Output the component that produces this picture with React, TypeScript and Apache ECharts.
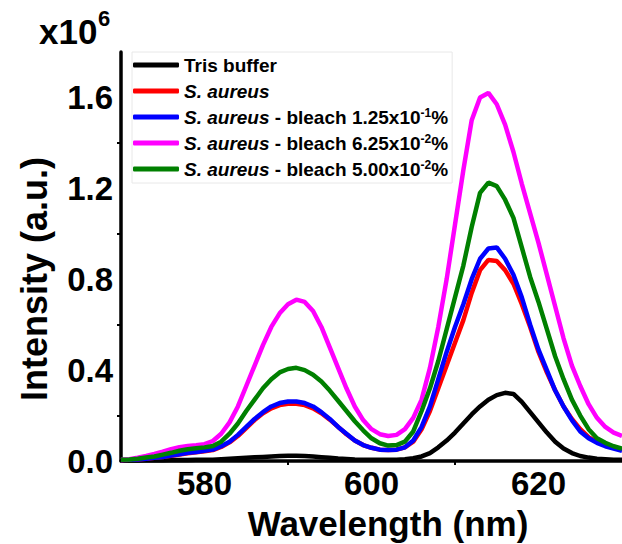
import React, { useEffect, useRef } from "react";
import * as echarts from "echarts";

const wavelengths = [
  570, 571, 572, 573, 574, 575, 576, 577, 578, 579, 580,
  581, 582, 583, 584, 585, 586, 587, 588, 589, 590,
  591, 592, 593, 594, 595, 596, 597, 598, 599, 600,
  601, 602, 603, 604, 605, 606, 607, 608, 609, 610,
  611, 612, 613, 614, 615, 616, 617, 618, 619, 620,
  621, 622, 623, 624, 625, 626, 627, 628, 629, 630,
];

const trisBuffer = [
  0.002, 0.002, 0.002, 0.003, 0.003, 0.003, 0.004, 0.004, 0.004, 0.005, 0.005,
  0.006, 0.008, 0.01, 0.012, 0.014, 0.016, 0.018, 0.02, 0.022, 0.023,
  0.023, 0.022, 0.02, 0.017, 0.014, 0.011, 0.009, 0.007, 0.006, 0.005,
  0.005, 0.005, 0.006, 0.008, 0.012, 0.02, 0.035, 0.06, 0.09, 0.125,
  0.165, 0.205, 0.24, 0.27, 0.29, 0.3, 0.295, 0.26, 0.215, 0.17,
  0.125, 0.085, 0.055, 0.035, 0.022, 0.015, 0.01, 0.008, 0.006, 0.005,
];

const sAureus = [
  0.004, 0.005, 0.007, 0.01, 0.014, 0.018, 0.023, 0.029, 0.034, 0.038, 0.043,
  0.048, 0.062, 0.082, 0.11, 0.145, 0.18, 0.21, 0.232, 0.246, 0.252,
  0.252, 0.246, 0.232, 0.21, 0.182, 0.15, 0.118, 0.09, 0.07, 0.058,
  0.05, 0.048, 0.05, 0.06, 0.085, 0.14, 0.22, 0.32, 0.42, 0.52,
  0.62, 0.74, 0.84, 0.885, 0.88, 0.84, 0.78, 0.69, 0.59, 0.48,
  0.39, 0.31, 0.24, 0.185, 0.14, 0.105, 0.085, 0.07, 0.06, 0.05,
];

const bleach125e1 = [
  0.004, 0.005, 0.007, 0.01, 0.014, 0.018, 0.024, 0.03, 0.036, 0.04, 0.045,
  0.05, 0.065, 0.085, 0.115, 0.15, 0.185, 0.215, 0.24, 0.255, 0.262,
  0.262, 0.255, 0.24, 0.215, 0.185, 0.15, 0.12, 0.09, 0.07, 0.058,
  0.05, 0.048, 0.05, 0.06, 0.09, 0.15, 0.24, 0.36, 0.48, 0.59,
  0.69, 0.8, 0.89, 0.935, 0.94, 0.89, 0.82, 0.72, 0.6, 0.49,
  0.4, 0.31, 0.24, 0.18, 0.13, 0.1, 0.08, 0.065, 0.055, 0.045,
];

const bleach625e2 = [
  0.004, 0.008, 0.014, 0.022, 0.031, 0.041, 0.052, 0.061, 0.066, 0.069, 0.074,
  0.088, 0.12, 0.17, 0.24, 0.33, 0.42, 0.51, 0.59, 0.65, 0.69,
  0.71, 0.7, 0.66, 0.59, 0.5, 0.41, 0.32, 0.24, 0.18, 0.14,
  0.118, 0.11, 0.115, 0.14, 0.19, 0.27, 0.41, 0.59, 0.8, 1.04,
  1.28, 1.5, 1.6, 1.62, 1.57, 1.48, 1.36, 1.22, 1.09, 0.96,
  0.82, 0.68, 0.54, 0.42, 0.33, 0.25, 0.19, 0.15, 0.125, 0.11,
];

const bleach500e2 = [
  0.005, 0.007, 0.01, 0.015, 0.02, 0.028, 0.036, 0.045, 0.052, 0.056, 0.06,
  0.066, 0.085, 0.12, 0.165, 0.22, 0.27, 0.32, 0.36, 0.39, 0.405,
  0.41, 0.4, 0.38, 0.35, 0.31, 0.265, 0.22, 0.175, 0.135, 0.1,
  0.078, 0.068, 0.07, 0.085, 0.13, 0.22, 0.32, 0.44, 0.58, 0.72,
  0.86, 1.03, 1.18, 1.225, 1.21, 1.15, 1.07, 0.94, 0.81, 0.7,
  0.58, 0.46, 0.36, 0.27, 0.2, 0.14, 0.1, 0.08, 0.065, 0.055,
];

const seriesNames = [
  "Tris buffer",
  "S. aureus",
  "S. aureus - bleach 1.25x10-1%",
  "S. aureus - bleach 6.25x10-2%",
  "S. aureus - bleach 5.00x10-2%",
];
const legendItalic = ["", "S. aureus", "S. aureus", "S. aureus", "S. aureus"];
const legendRest = ["Tris buffer", "", " - bleach 1.25x10", " - bleach 6.25x10", " - bleach 5.00x10"];
const legendSup = ["", "", "-1", "-2", "-2"];
const legendTail = ["", "", "%", "%", "%"];
const seriesColors = ["#000000", "#ff0000", "#0000ff", "#ff00ff", "#008000"];
const seriesValues = [trisBuffer, sAureus, bleach125e1, bleach625e2, bleach500e2];

const xLabelValues = [580, 600, 620];
const xMinorTicks = [590, 610];
const yLabelValues = [0, 0.4, 0.8, 1.2, 1.6];
const yMinorTicks = [0.2, 0.6, 1.0, 1.4];

const FONT = "'Liberation Sans', Arial, Helvetica, sans-serif";

export default function App() {
  const ref = useRef<HTMLDivElement>(null);

  useEffect(() => {
    if (!ref.current) return;
    const chart = echarts.init(ref.current, null, { renderer: "svg" });

    const series = seriesNames.map((name, i) => ({
      name,
      type: "line",
      data: wavelengths.map((w, j) => [w, seriesValues[i][j]]),
      showSymbol: false,
      symbol: "none",
      lineStyle: { color: seriesColors[i], width: 4.5 },
      itemStyle: { color: seriesColors[i] },
      z: 2 + i,
    }));

    const legendFormatter = (name: string) => {
      const i = seriesNames.indexOf(name);
      let s = "";
      if (legendItalic[i]) s += `{i|${legendItalic[i]}}`;
      if (legendRest[i]) s += `{n|${legendRest[i]}}`;
      if (legendSup[i]) s += `{s|${legendSup[i]}}`;
      if (legendTail[i]) s += `{n|${legendTail[i]}}`;
      return s;
    };

    chart.setOption({
      animation: false,
      backgroundColor: "#ffffff",
      grid: { left: 121, right: -2, top: 52, bottom: 83, containLabel: false },
      legend: {
        left: 132,
        top: 52,
        orient: "vertical",
        data: seriesNames,
        icon: "roundRect",
        itemWidth: 46,
        itemHeight: 5,
        itemGap: 6,
        padding: [3, 4, 4, 1],
        borderColor: "#e8e8e8",
        borderWidth: 1,
        selectedMode: false,
        formatter: legendFormatter,
        textStyle: {
          fontFamily: FONT,
          fontSize: 19,
          fontWeight: "bold",
          color: "#000",
          lineHeight: 20,
          rich: {
            i: { fontFamily: FONT, fontSize: 19, fontWeight: "bold", fontStyle: "italic", color: "#000", lineHeight: 20 },
            n: { fontFamily: FONT, fontSize: 19, fontWeight: "bold", color: "#000", lineHeight: 20 },
            s: { fontFamily: FONT, fontSize: 12, fontWeight: "bold", color: "#000", lineHeight: 12, verticalAlign: "top" },
          },
        },
      },
      xAxis: {
        type: "value",
        min: 570,
        max: 630,
        axisLine: { show: true, onZero: false, lineStyle: { color: "#000", width: 3.5 } },
        axisTick: {
          show: true,
          customValues: xMinorTicks,
          length: 4,
          inside: false,
          lineStyle: { color: "#000", width: 2 },
        },
        axisLabel: {
          customValues: xLabelValues,
          fontFamily: FONT,
          fontSize: 33,
          fontWeight: "bold",
          color: "#000",
          margin: 6,
        },
        splitLine: { show: false },
      },
      yAxis: {
        type: "value",
        min: 0,
        max: 1.8,
        axisLine: { show: true, lineStyle: { color: "#000", width: 3.5 } },
        axisTick: {
          show: true,
          customValues: yMinorTicks,
          length: 4,
          inside: false,
          lineStyle: { color: "#000", width: 2 },
        },
        axisLabel: {
          customValues: yLabelValues,
          formatter: (v: number) => v.toFixed(1),
          fontFamily: FONT,
          fontSize: 33,
          fontWeight: "bold",
          color: "#000",
          margin: 8,
        },
        splitLine: { show: false },
      },
      graphic: [
        {
          type: "text",
          x: 34,
          y: 279,
          rotation: Math.PI / 2,
          style: {
            text: "Intensity (a.u.)",
            font: `bold 36px ${FONT}`,
            fill: "#000",
            align: "center",
            verticalAlign: "middle",
          },
        },
        {
          type: "text",
          x: 388,
          y: 523,
          style: {
            text: "Wavelength (nm)",
            font: `bold 35px ${FONT}`,
            fill: "#000",
            align: "center",
            verticalAlign: "middle",
          },
        },
        {
          type: "text",
          x: 39,
          y: 31,
          style: {
            text: "x10",
            font: `bold 35px ${FONT}`,
            fill: "#000",
            align: "left",
            verticalAlign: "middle",
          },
        },
        {
          type: "text",
          x: 98,
          y: 18,
          style: {
            text: "6",
            font: `bold 22px ${FONT}`,
            fill: "#000",
            align: "left",
            verticalAlign: "middle",
          },
        },
      ],
      series,
    });

    return () => chart.dispose();
  }, []);

  return (
    <div
      ref={ref}
      style={{ position: "fixed", left: 0, top: 0, width: 622, height: 544, background: "#fff" }}
    />
  );
}
